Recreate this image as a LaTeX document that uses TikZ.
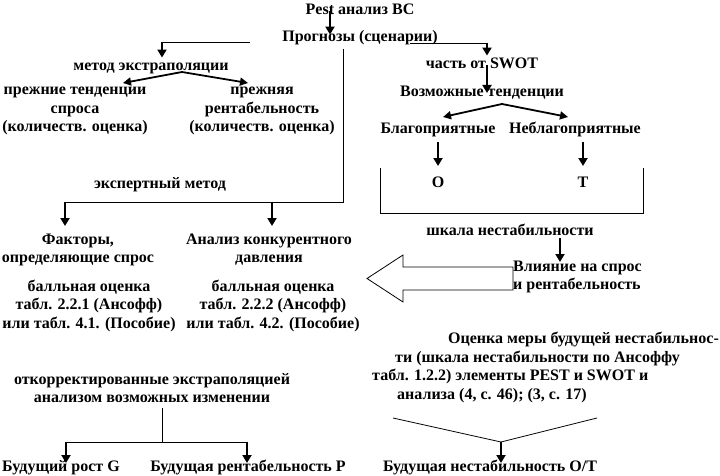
\documentclass[tikz,border=0pt]{standalone}
\usepackage{fontspec}
\setmainfont{Liberation Serif}
\usetikzlibrary{arrows.meta,calc}
\begin{document}
\begin{tikzpicture}[x=1pt,y=-1pt,
  txt/.style={font=\bfseries\fontsize{16}{18.5}\selectfont, inner sep=0pt, align=center,
    execute at begin node=\strut, execute at end node=\strut},
  thinline/.style={line width=0.8pt},
  downarrow/.style={line width=2.2pt, -{Triangle[length=8pt,width=9pt]}},
  diagarrow/.style={line width=1.8pt, -{Triangle[length=8pt,width=8pt]}},
]
\useasboundingbox (0,0) rectangle (720,476);
% text nodes
\node[txt] (pest) at (360,11) {Pest анализ ВС};
\node[txt] (prog) at (360,38) {Прогнозы (сценарии)};
\node[txt] (extrap) at (151,67) {метод экстраполяции};
\node[txt] (prevdem) at (75,112.5) {прежние тенденции\\спроса\\(количеств. оценка)};
\node[txt] (prevprof) at (262,112.5) {прежняя\\рентабельность\\(количеств. оценка)};
\node[txt] (swot) at (482,65) {часть от SWOT};
\node[txt] (trends) at (482,93) {Возможные тенденции};
\node[txt] (fav) at (438,130) {Благоприятные};
\node[txt] (unfav) at (575,130) {Неблагоприятные};
\node[txt] (O) at (438,184) {O};
\node[txt] (T) at (583,184) {T};
\node[txt] (expert) at (160,185) {экспертный метод};
\node[txt] (factors) at (78,251) {Факторы,\\определяющие спрос};
\node[txt] (compet) at (269,251) {Анализ конкурентного\\давления};
\node[txt] (score1) at (89,307) {балльная оценка\\табл. 2.2.1 (Ансофф)\\или табл. 4.1. (Пособие)};
\node[txt] (score2) at (273,307) {балльная оценка\\табл. 2.2.2 (Ансофф)\\или табл. 4.2. (Пособие)};
\node[txt] (scale) at (510,232) {шкала нестабильности};
\node[txt, anchor=west, align=left] (infl) at (513,278) {Влияние на спрос\\и рентабельность};
\node[txt] (corr) at (152,391) {откорректированные экстраполяцией\\анализом возможных изменении};
\node[txt, anchor=west, align=left] (estim) at (372,368.5) {\hspace*{76pt}Оценка меры будущей нестабильнос-\\\hspace*{23pt}ти (шкала нестабильности по Ансоффу\\табл. 1.2.2) элементы PEST и SWOT и\\\hspace*{25pt}анализа (4, с. 46); (3, с. 17)};
\node[txt] (futG) at (61,468) {Будущий рост G};
\node[txt] (futP) at (248,468) {Будущая рентабельность P};
\node[txt] (futOT) at (490,468) {Будущая нестабильность О/T};

% connectors
\draw[downarrow] (pest.center -| 330,0) -- (prog.north -| 330,0) -- ++(0,6);
\coordinate (pl) at (250,42);
\draw[thinline] (pl) -- (162,42);
\draw[downarrow] (162,41.6) -- (extrap.north -| 162,0);
\coordinate (pr) at (410,43);
\draw[thinline] (pr) -- (487,43);
\draw[downarrow] (487,42.6) -- (swot.north -| 487,0);
\coordinate (ex) at (182,72);
\draw[diagarrow] (ex) -- (123,83);
\draw[diagarrow] (ex) -- (248,83);
\draw[thinline] (343,49) -- (343,202) -- (65,202);
\draw[downarrow] (65,201.6) -- (65,226);
\draw[downarrow] (272,201.6) -- (272,226);
\draw[downarrow] (swot.center -| 487,0) -- (trends.center -| 487,0);
\coordinate (tr) at (502,104);
\draw[diagarrow] (tr) -- (443,117);
\draw[diagarrow] (tr) -- (568,117);
\draw[downarrow] (438,142) -- (438,166);
\draw[downarrow] (583,142) -- (583,166);
\draw[thinline] (380,168) -- (380,213) -- (643,213) -- (643,168);
\draw[downarrow] (560,238) -- (560,262);
\draw[thinline] (infl.west |- 0,267) -- (403,267) -- (403,255) -- (367,278.5) -- (403,302) -- (403,290) -- (infl.west |- 0,290) -- cycle;
\draw[thinline] (162,408) -- (162,442);
\draw[thinline] (66,442) -- (247,442);
\draw[downarrow] (66,441.6) -- (66,463);
\draw[downarrow] (247,441.6) -- (247,463);
\coordinate (ej) at (501,442);
\draw[thinline] (393,418) -- (ej) -- (597,418);
\draw[downarrow] (ej) -- (501,463);
\end{tikzpicture}
\end{document}
